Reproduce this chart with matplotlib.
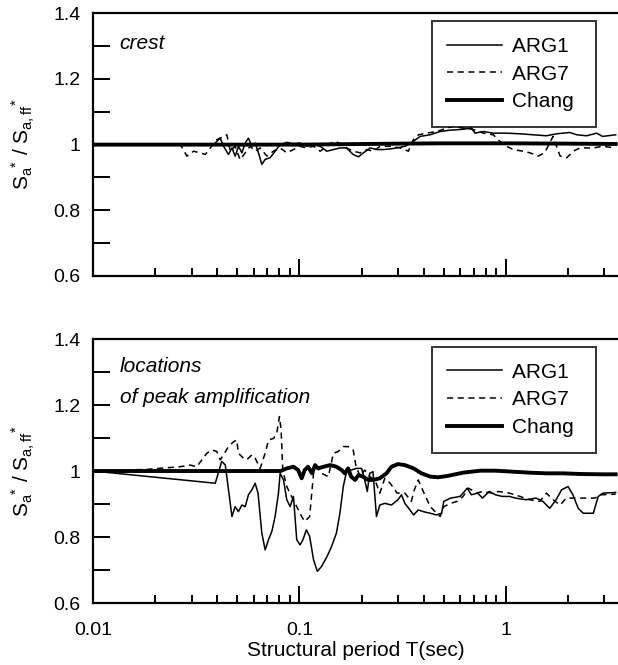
import matplotlib
matplotlib.use("Agg")
import matplotlib.pyplot as plt
from matplotlib.ticker import FixedLocator, FuncFormatter, NullFormatter
import numpy as np

plt.rcParams['font.family'] = ['Liberation Sans', 'DejaVu Sans']
plt.rcParams['mathtext.fontset'] = 'custom'
plt.rcParams['mathtext.rm'] = 'Liberation Sans'
plt.rcParams['mathtext.it'] = 'Liberation Sans:italic'

# ---- crest (top panel) ----
top_arg1_T = [0.01, 0.0384, 0.0398, 0.0413, 0.0429, 0.0453, 0.0471, 0.0488, 0.0507, 0.0526,
              0.0546, 0.0566, 0.0588, 0.061, 0.0633, 0.0657, 0.0682, 0.0721, 0.0763, 0.0806,
              0.0868, 0.0935, 0.1007, 0.1084, 0.117, 0.126, 0.1356, 0.146, 0.157, 0.169,
              0.182, 0.193, 0.204, 0.22, 0.237, 0.255, 0.275, 0.296, 0.325, 0.356,
              0.384, 0.429, 0.48, 0.536, 0.599, 0.682, 0.708, 0.777, 0.868, 1.007,
              1.17, 1.356, 1.57, 1.76, 2.04, 2.2, 2.46, 2.75, 2.94, 3.4]
top_arg1 = [1.0, 1.0, 1.01, 1.02, 0.995, 0.97, 0.99, 0.965, 0.995, 0.975,
            1.005, 1.02, 0.995, 1.005, 0.975, 0.94, 0.955, 0.96, 0.98, 1.0,
            1.007, 1.003, 1.005, 0.995, 1.0, 0.995, 0.98, 0.985, 0.99, 0.99,
            0.97, 0.963, 0.975, 0.99, 0.985, 0.985, 0.987, 0.99, 0.995, 1.01,
            1.025, 1.03, 1.04, 1.044, 1.046, 1.05, 1.035, 1.04, 1.035, 1.035,
            1.033, 1.03, 1.027, 1.033, 1.037, 1.03, 1.027, 1.035, 1.025, 1.03]

top_arg7_T = [0.01, 0.0265, 0.0285, 0.0307, 0.033, 0.035, 0.037, 0.0398, 0.0429, 0.0445,
              0.0462, 0.0488, 0.0516, 0.0546, 0.0577, 0.061, 0.0645, 0.0695, 0.0748, 0.0806,
              0.0868, 0.0935, 0.1007, 0.108, 0.117, 0.126, 0.136, 0.146, 0.157, 0.169,
              0.182, 0.197, 0.212, 0.228, 0.246, 0.275, 0.307, 0.337, 0.356, 0.377,
              0.413, 0.462, 0.516, 0.556, 0.622, 0.695, 0.777, 0.868, 0.935, 1.007,
              1.084, 1.21, 1.31, 1.43, 1.54, 1.69, 1.83, 1.97, 2.12, 2.28,
              2.65, 2.94, 3.4]
top_arg7 = [1.0, 1.0, 0.965, 0.98, 0.975, 0.97, 0.99, 1.015, 1.025, 1.03,
            0.98, 0.995, 0.954, 0.975, 0.995, 0.98, 0.99, 0.965, 0.98, 0.99,
            0.975, 0.985, 0.995, 0.99, 0.995, 0.98, 0.995, 1.01, 1.005, 0.99,
            0.98, 0.975, 0.985, 0.98, 0.995, 0.995, 0.99, 0.98, 1.015, 1.03,
            1.035, 1.04, 1.05, 1.056, 1.05, 1.046, 1.035, 1.03, 1.01, 0.995,
            0.985, 0.98, 0.975, 0.965, 0.975, 1.025, 0.965, 0.96, 0.98, 0.99,
            0.99, 0.995, 0.99]

top_chang_T = [0.01, 0.1, 0.3, 0.5, 1.0, 2.0, 3.4]
top_chang = [1.0, 1.0, 1.003, 1.004, 1.004, 1.003, 1.002]

# ---- locations of peak amplification (bottom panel) ----
bot_arg1_T = [0.01, 0.0391, 0.042, 0.0437, 0.0471, 0.0488, 0.0506, 0.0526, 0.0546, 0.0566,
              0.0588, 0.061, 0.063, 0.0657, 0.0682, 0.0708, 0.0735, 0.0762, 0.0791, 0.0806,
              0.0837, 0.0868, 0.0901, 0.0935, 0.097, 0.1006, 0.104, 0.108, 0.112, 0.117,
              0.122, 0.128, 0.136, 0.143, 0.151, 0.157, 0.163, 0.169, 0.178, 0.189,
              0.2, 0.207, 0.213, 0.219, 0.227, 0.236, 0.245, 0.259, 0.279, 0.30,
              0.312, 0.324, 0.343, 0.357, 0.376, 0.398, 0.43, 0.46, 0.488, 0.50,
              0.54, 0.60, 0.65, 0.68, 0.73, 0.77, 0.83, 0.89, 0.96, 1.04,
              1.11, 1.25, 1.40, 1.51, 1.63, 1.75, 1.86, 2.0, 2.11, 2.24,
              2.37, 2.65, 2.80, 2.95, 3.4]
bot_arg1 = [1.0, 0.963, 1.029, 1.019, 0.862, 0.892, 0.877, 0.897, 0.892, 0.928,
            0.943, 0.963, 0.933, 0.812, 0.761, 0.792, 0.817, 0.862, 0.933, 0.993,
            0.973, 0.913, 0.892, 0.923, 0.792, 0.776, 0.792, 0.822, 0.802, 0.731,
            0.696, 0.711, 0.741, 0.771, 0.812, 0.872, 0.953, 0.998, 1.003, 1.008,
            1.008, 0.973, 0.938, 0.993, 0.998, 0.862, 0.897, 0.902, 0.897, 0.913,
            0.928, 0.902, 0.882, 0.867, 0.882, 0.877, 0.872, 0.867, 0.872, 0.908,
            0.918, 0.923, 0.948, 0.928, 0.933, 0.918, 0.938, 0.928, 0.923, 0.923,
            0.918, 0.913, 0.918, 0.908, 0.887, 0.913, 0.943, 0.953, 0.928, 0.887,
            0.872, 0.872, 0.923, 0.933, 0.935]

bot_arg7_T = [0.01, 0.0183, 0.0264, 0.0296, 0.0318, 0.0337, 0.0356, 0.0376, 0.0398, 0.0413,
              0.0429, 0.0453, 0.048, 0.0497, 0.0506, 0.0535, 0.0556, 0.0588, 0.061, 0.0645,
              0.0682, 0.0708, 0.075, 0.0776, 0.080, 0.0815, 0.083, 0.0868, 0.0915, 0.097,
              0.1025, 0.106, 0.112, 0.117, 0.121, 0.128, 0.138, 0.146, 0.154, 0.163,
              0.172, 0.182, 0.188, 0.197, 0.207, 0.219, 0.232, 0.245, 0.259, 0.275,
              0.297, 0.324, 0.348, 0.36, 0.376, 0.398, 0.43, 0.454, 0.48, 0.50,
              0.54, 0.58, 0.62, 0.66, 0.72, 0.77, 0.86, 0.92, 1.04, 1.17,
              1.30, 1.46, 1.57, 1.69, 1.83, 1.96, 2.19, 2.46, 2.70, 2.86, 3.4]
bot_arg7 = [1.0, 1.005, 1.013, 1.018, 1.013, 1.034, 1.054, 1.064, 1.059, 1.034,
            1.049, 1.074, 1.089, 1.094, 1.054, 1.039, 1.034, 1.049, 1.039, 1.008,
            1.054, 1.094, 1.099, 1.114, 1.165, 1.124, 1.003, 0.953, 0.923, 0.892,
            0.862, 0.847, 0.862, 0.993, 1.013, 0.993, 0.983, 1.054, 1.059, 1.074,
            1.074, 1.064, 1.013, 0.983, 1.003, 0.983, 0.973, 0.933, 0.978, 0.963,
            0.933, 0.933, 0.908, 0.943, 0.973, 0.938, 0.892, 0.877, 0.862, 0.892,
            0.902, 0.908, 0.923, 0.948, 0.933, 0.938, 0.933, 0.938, 0.933, 0.923,
            0.913, 0.908, 0.933, 0.913, 0.897, 0.918, 0.918, 0.918, 0.918, 0.928, 0.93]

bot_chang_T = [0.01, 0.081, 0.0868, 0.0935, 0.0985, 0.1025, 0.106, 0.11, 0.115, 0.119,
               0.123, 0.131, 0.141, 0.151, 0.16, 0.166, 0.172, 0.178, 0.186, 0.193,
               0.203, 0.215, 0.227, 0.245, 0.264, 0.279, 0.30, 0.324, 0.357, 0.39,
               0.43, 0.47, 0.52, 0.62, 0.75, 0.89, 1.08, 1.30, 1.57, 1.89, 2.28, 2.95, 3.4]
bot_chang = [1.0, 1.0, 1.008, 1.013, 1.003, 0.978, 1.003, 1.013, 0.993, 1.018,
             1.008, 1.013, 1.018, 1.013, 1.003, 0.993, 1.008, 0.983, 0.973, 0.988,
             0.983, 0.973, 0.973, 0.978, 0.993, 1.013, 1.021, 1.018, 1.008, 0.993,
             0.983, 0.981, 0.985, 0.995, 1.001, 1.001, 0.998, 0.995, 0.993, 0.993, 0.991, 0.99, 0.99]

series_names = ['ARG1', 'ARG7', 'Chang']
y_ticks = [0.6, 0.8, 1.0, 1.2, 1.4]
x_ticks = [0.01, 0.1, 1]
ylabel = r'S$_\mathregular{a}$$^\mathregular{*}$ / S$_\mathregular{a,ff}$$^\mathregular{*}$'

fig = plt.figure(figsize=(6.18, 6.65), dpi=100)
ax1 = fig.add_axes([0.1505, 0.585, 0.8495, 0.395])
ax2 = fig.add_axes([0.1505, 0.0932, 0.8495, 0.397])

panels = [
    (ax1, top_arg1_T, top_arg1, top_arg7_T, top_arg7, top_chang_T, top_chang),
    (ax2, bot_arg1_T, bot_arg1, bot_arg7_T, bot_arg7, bot_chang_T, bot_chang),
]

for ax, t1, v1, t7, v7, tc, vc in panels:
    # trailing spaces widen the legend box on the right like the original
    ax.plot(t1, v1, color='black', lw=1.1, label=series_names[0] + '  ')
    ax.plot(t7, v7, color='black', lw=1.1, ls=(0, (4, 3)), label=series_names[1] + '  ')
    ax.plot(tc, vc, color='black', lw=2.8, label=series_names[2] + ' ')
    ax.set_xscale('log')
    ax.set_xlim(0.01, 3.49)
    ax.set_ylim(0.6, 1.4)
    ax.spines['right'].set_visible(False)
    for s in ['left', 'bottom', 'top']:
        ax.spines[s].set_linewidth(1.6)
    ax.yaxis.set_major_locator(FixedLocator(y_ticks))
    ax.yaxis.set_minor_locator(FixedLocator([0.7, 0.9, 1.1, 1.3]))
    ax.yaxis.set_major_formatter(FuncFormatter(lambda v, p: f'{v:g}'))
    ax.xaxis.set_major_locator(FixedLocator(x_ticks))
    ax.xaxis.set_minor_locator(FixedLocator([m * d for d in [0.01, 0.1, 1] for m in range(2, 10)]))
    ax.xaxis.set_minor_formatter(NullFormatter())
    ax.tick_params(axis='y', which='both', direction='in', length=12, width=1.4, labelsize=14, pad=9)
    ax.tick_params(axis='x', which='major', direction='in', length=12, width=1.4, labelsize=14, pad=14)
    ax.tick_params(axis='x', which='minor', direction='in', length=6, width=1.4)
    ax.tick_params(top=False, right=False, which='both')
    ax.set_ylabel(ylabel, fontsize=15, labelpad=12)
    leg = ax.legend(loc='upper right', bbox_to_anchor=(0.958, 0.97), borderaxespad=0,
                    fontsize=15, frameon=True, fancybox=False, edgecolor='black',
                    handlelength=2.6, handletextpad=0.5, labelspacing=0.42, borderpad=0.75)
    leg.get_frame().set_linewidth(1.4)

ax1.xaxis.set_major_formatter(NullFormatter())
ax2.xaxis.set_major_formatter(FuncFormatter(lambda v, p: f'{v:g}'))
ax2.set_xlabel('Structural period T(sec)', fontsize=15, labelpad=1)

ax1.text(0.051, 0.92, 'crest', transform=ax1.transAxes, fontsize=15, style='italic', va='top')
ax2.text(0.051, 0.93, 'locations', transform=ax2.transAxes, fontsize=15, style='italic', va='top')
ax2.text(0.051, 0.815, 'of peak amplification', transform=ax2.transAxes, fontsize=15,
         style='italic', va='top')

fig.savefig('out.png', dpi=100)
